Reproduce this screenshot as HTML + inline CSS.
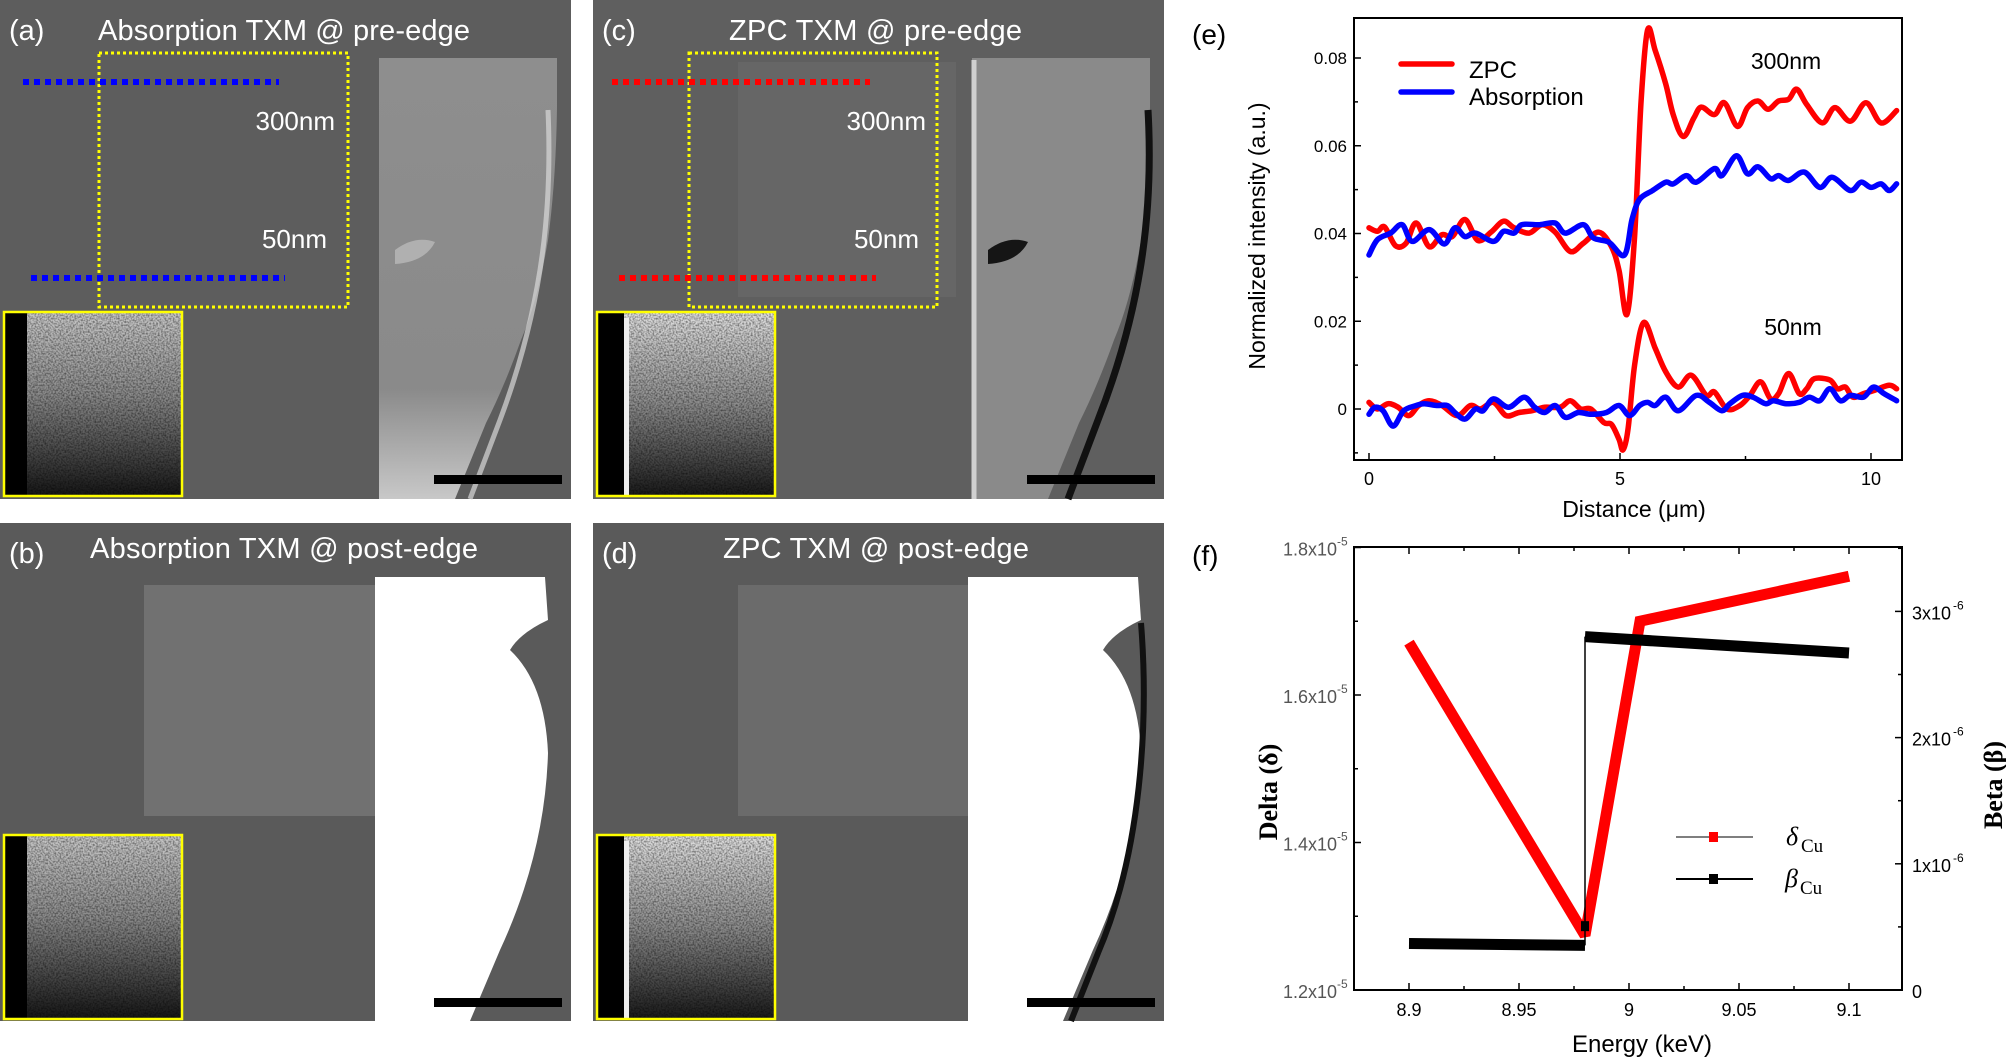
<!DOCTYPE html>
<html><head><meta charset="utf-8"><style>
html,body{margin:0;padding:0;background:#fff;}
svg{display:block;font-family:"Liberation Sans",Arial,sans-serif;}
</style></head><body>
<svg id="root" width="2006" height="1057" viewBox="0 0 2006 1057" xmlns="http://www.w3.org/2000/svg">
<defs>
  <linearGradient id="insetA" x1="0" y1="0" x2="0" y2="1"><stop offset="0" stop-color="#c8c8c8"/><stop offset="0.45" stop-color="#8a8a8a"/><stop offset="1" stop-color="#151515"/></linearGradient>
  <linearGradient id="insetC" x1="0" y1="0" x2="0" y2="1"><stop offset="0" stop-color="#e0e0e0"/><stop offset="0.5" stop-color="#8c8c8c"/><stop offset="1" stop-color="#181818"/></linearGradient>
  <linearGradient id="specA" x1="0" y1="0" x2="0" y2="1"><stop offset="0" stop-color="#8e8e8e"/><stop offset="0.75" stop-color="#8a8a8a"/><stop offset="1" stop-color="#c8c8c8"/></linearGradient>
  <filter id="noise" x="0" y="0" width="1" height="1"><feTurbulence type="fractalNoise" baseFrequency="0.6" numOctaves="1" seed="3"/><feColorMatrix type="matrix" values="0 0 0 0 0  0 0 0 0 0  0 0 0 0 0  0 0 0 1.1 -0.4"/><feComposite in2="SourceGraphic" operator="in"/></filter>
</defs>

<!-- Panel a -->
<g>
  <rect x="0" y="0" width="571" height="499" fill="#5d5d5d"/>
  <path d="M379,58 L557,58 L557,107 Q556,180 548,240 Q538,300 521,340 Q505,385 486,423 L455,499 L379,499 Z" fill="url(#specA)"/>
  <path d="M548,110 C552,200 545,300 500,420 L470,499" stroke="#d8d8d8" stroke-width="5" fill="none" opacity="0.7"/>
  <path d="M395,250 q20,-15 40,-8 q-10,20 -40,22 z" fill="#b0b0b0"/>
  <rect x="99" y="53" width="249" height="254" fill="none" stroke="#ffff00" stroke-width="3" stroke-dasharray="3,3"/>
  <line x1="23" y1="82" x2="279" y2="82" stroke="#0000ff" stroke-width="6" stroke-dasharray="6,5"/>
  <line x1="31" y1="278" x2="285" y2="278" stroke="#0000ff" stroke-width="6" stroke-dasharray="6,5"/>
  <text x="9" y="40" font-size="29" fill="#fff">(a)</text>
  <text x="98" y="40" font-size="29" fill="#fff" textLength="372">Absorption TXM @ pre-edge</text>
  <text x="335" y="130" font-size="26" fill="#fff" text-anchor="end">300nm</text>
  <text x="327" y="248" font-size="26" fill="#fff" text-anchor="end">50nm</text>
  <g><rect x="4" y="312" width="178" height="184" fill="url(#insetA)"/><rect x="4" y="312" width="178" height="184" fill="#000" filter="url(#noise)"/><rect x="4" y="312" width="23" height="184" fill="#000"/><rect x="4" y="312" width="178" height="184" fill="none" stroke="#ffff00" stroke-width="2.5"/></g>
  <rect x="434" y="475" width="128" height="9" fill="#000"/>
</g>

<!-- Panel c -->
<g transform="translate(593,0)">
  <rect x="0" y="0" width="571" height="499" fill="#5f5f5f"/>
  <rect x="145" y="62" width="218" height="235" fill="#666"/>
  <path d="M379,58 L557,58 L557,107 Q556,180 548,240 Q538,300 521,340 Q505,385 486,423 L455,499 L379,499 Z" fill="#8a8a8a"/>
  <path d="M555,110 C560,200 552,300 505,420 L475,499" stroke="#111" stroke-width="7" fill="none"/>
  <path d="M381,60 L381,499" stroke="#d0d0d0" stroke-width="5"/>
  <path d="M395,250 q20,-15 40,-8 q-10,20 -40,22 z" fill="#151515"/>
  <rect x="96" y="53" width="248" height="254" fill="none" stroke="#ffff00" stroke-width="3" stroke-dasharray="3,3"/>
  <line x1="19" y1="82" x2="277" y2="82" stroke="#ff0000" stroke-width="6" stroke-dasharray="6,5"/>
  <line x1="26" y1="278" x2="283" y2="278" stroke="#ff0000" stroke-width="6" stroke-dasharray="6,5"/>
  <text x="9" y="40" font-size="29" fill="#fff">(c)</text>
  <text x="136" y="40" font-size="29" fill="#fff" textLength="293">ZPC TXM @ pre-edge</text>
  <text x="333" y="130" font-size="26" fill="#fff" text-anchor="end">300nm</text>
  <text x="326" y="248" font-size="26" fill="#fff" text-anchor="end">50nm</text>
  <g><rect x="4" y="312" width="178" height="184" fill="url(#insetC)"/><rect x="4" y="312" width="178" height="184" fill="#000" filter="url(#noise)"/><rect x="4" y="312" width="27" height="184" fill="#000"/><rect x="31" y="318" width="5" height="178" fill="#eee"/><rect x="4" y="312" width="178" height="184" fill="none" stroke="#ffff00" stroke-width="2.5"/></g>
  <rect x="434" y="475" width="128" height="9" fill="#000"/>
</g>

<!-- Panel b -->
<g transform="translate(0,523)">
  <rect x="0" y="0" width="571" height="498" fill="#5a5a5a"/>
  <rect x="144" y="62" width="235" height="231" fill="#717171"/>
  <path d="M375,54 L545,54 L548,97 Q520,110 510,127 Q545,160 548,230 Q545,330 500,427 L470,498 L375,498 Z" fill="#fff"/>
  <text x="9" y="40" font-size="29" fill="#fff">(b)</text>
  <text x="90" y="35" font-size="29" fill="#fff" textLength="388">Absorption TXM @ post-edge</text>
  <g><rect x="4" y="312" width="178" height="184" fill="url(#insetA)"/><rect x="4" y="312" width="178" height="184" fill="#000" filter="url(#noise)"/><rect x="4" y="312" width="23" height="184" fill="#000"/><rect x="4" y="312" width="178" height="184" fill="none" stroke="#ffff00" stroke-width="2.5"/></g>
  <rect x="434" y="475" width="128" height="9" fill="#000"/>
</g>

<!-- Panel d -->
<g transform="translate(593,523)">
  <rect x="0" y="0" width="571" height="498" fill="#5a5a5a"/>
  <rect x="145" y="62" width="234" height="231" fill="#6b6b6b"/>
  <path d="M375,54 L545,54 L548,97 Q520,110 510,127 Q545,160 548,230 Q545,330 500,427 L470,498 L375,498 Z" fill="#fff"/>
  <path d="M548,100 C556,200 548,330 505,430 L478,498" stroke="#111" stroke-width="6" fill="none"/>
  <text x="9" y="40" font-size="29" fill="#fff">(d)</text>
  <text x="130" y="35" font-size="29" fill="#fff" textLength="306">ZPC TXM @ post-edge</text>
  <g><rect x="4" y="312" width="178" height="184" fill="url(#insetC)"/><rect x="4" y="312" width="178" height="184" fill="#000" filter="url(#noise)"/><rect x="4" y="312" width="27" height="184" fill="#000"/><rect x="31" y="318" width="5" height="178" fill="#eee"/><rect x="4" y="312" width="178" height="184" fill="none" stroke="#ffff00" stroke-width="2.5"/></g>
  <rect x="434" y="475" width="128" height="9" fill="#000"/>
</g>

<text x="1192" y="44" font-size="28" fill="#000">(e)</text>
<text x="1192" y="565" font-size="28" fill="#000">(f)</text>

<g id="chartE"></g>
<g id="chartF"></g>
</svg>
<script>
// ---- Chart (e) data ----
const zpc300X = [0,0.17,0.31,0.53,0.74,0.94,1.2,1.45,1.66,1.91,2.17,2.43,2.68,2.89,3.19,3.45,3.71,4.01,4.27,4.58,4.83,4.98,5.14,5.29,5.42,5.55,5.7,5.91,6.06,6.26,6.47,6.62,6.88,7.08,7.34,7.54,7.75,7.95,8.16,8.36,8.52,8.72,9.03,9.28,9.59,9.9,10.2,10.51];
const zpc300Y = [0.0413,0.0405,0.0415,0.0372,0.0378,0.0424,0.037,0.0397,0.0393,0.0432,0.0384,0.0403,0.0428,0.0413,0.0401,0.042,0.0403,0.0359,0.0378,0.0403,0.037,0.0316,0.0216,0.0393,0.0702,0.0864,0.0818,0.0741,0.0671,0.0621,0.0663,0.0688,0.0671,0.0698,0.0644,0.0687,0.0702,0.0683,0.0702,0.0706,0.0729,0.0694,0.0652,0.0687,0.0656,0.0698,0.0652,0.068];
const abs300X = [0,0.17,0.43,0.66,0.86,1.2,1.5,1.71,1.91,2.12,2.48,2.68,2.89,3.04,3.4,3.71,3.91,4.27,4.47,4.78,5.09,5.24,5.39,5.65,5.91,6.06,6.32,6.52,6.88,7.03,7.32,7.54,7.75,8.0,8.16,8.36,8.67,8.98,9.23,9.59,9.8,10.0,10.2,10.36,10.51];
const abs300Y = [0.0351,0.0386,0.0401,0.042,0.0382,0.0409,0.0376,0.0413,0.0393,0.0401,0.0382,0.0405,0.0401,0.042,0.042,0.0424,0.0401,0.042,0.039,0.038,0.0351,0.0432,0.0478,0.0498,0.0517,0.0513,0.0532,0.0517,0.0548,0.0532,0.0577,0.0536,0.0552,0.0525,0.0532,0.0521,0.054,0.0505,0.0528,0.0498,0.0517,0.0505,0.0513,0.0498,0.0513];
const zpc50X = [0,0.17,0.38,0.58,0.79,0.99,1.2,1.45,1.76,2.02,2.22,2.48,2.73,2.99,3.24,3.5,3.81,4.01,4.22,4.42,4.68,4.83,4.98,5.06,5.16,5.29,5.47,5.7,5.91,6.16,6.42,6.72,6.88,7.13,7.39,7.59,7.8,8.0,8.16,8.36,8.57,8.72,8.87,9.18,9.33,9.49,9.64,9.85,10.05,10.36,10.51];
const zpc50Y = [0.0015,0,0.0012,0.0004,-0.0015,0.0008,0.0019,0.0008,-0.0015,0.0008,0,0.0015,-0.0015,-0.0008,-0.0004,0.0004,0.0004,0.0019,0,0,-0.0031,-0.0035,-0.0069,-0.0093,-0.0046,0.01,0.0197,0.0139,0.0085,0.005,0.0077,0.0031,0.0039,0,0.0008,0.0031,0.0062,0.0023,0.0035,0.0081,0.0035,0.0046,0.0069,0.0066,0.0046,0.005,0.0027,0.0035,0.0042,0.0054,0.0046];
const abs50X = [0,0.12,0.28,0.48,0.69,0.94,1.1,1.35,1.56,1.71,1.91,2.12,2.27,2.48,2.78,3.09,3.3,3.5,3.71,3.91,4.17,4.42,4.73,4.98,5.19,5.39,5.55,5.7,5.91,6.16,6.52,6.78,7.03,7.19,7.44,7.65,7.9,8.06,8.31,8.57,8.77,8.98,9.18,9.39,9.59,9.85,10.05,10.26,10.51];
const abs50Y = [-0.0012,0.0004,-0.0004,-0.0039,-0.0004,0.0008,0.0012,0.0008,0.0008,-0.0008,-0.0023,0,-0.0004,0.0023,0.0004,0.0027,0.0004,-0.0008,0.0008,-0.0019,-0.0008,-0.0012,-0.0008,0.0008,-0.0015,0.0008,0.0015,0.0008,0.0027,-0.0004,0.0031,0.0015,-0.0004,0.0012,0.0031,0.0027,0.0012,0.0019,0.0012,0.0015,0.0027,0.0019,0.0046,0.0019,0.0031,0.0027,0.005,0.0035,0.0019];
const eXTicks = [0,5,10];
const eXTickLabels = ["0","5","10"];
const eYTicks = [0,0.02,0.04,0.06,0.08];
const eYTickLabels = ["0","0.02","0.04","0.06","0.08"];

// ---- Chart (f) data ----
const deltaE = [8.9,8.98,9.005,9.1];
const deltaV = [1.671,1.274,1.700,1.761]; // x1e-5
const betaE = [8.9,8.98,8.98,9.1];
const betaV = [0.368,0.354,2.80,2.67]; // x1e-6
const fXTicks = [8.9,8.95,9.0,9.05,9.1];
const fXTickLabels = ["8.9","8.95","9","9.05","9.1"];
const fLTicks = [1.2,1.4,1.6,1.8];
const fLTickLabels = ["1.2x10","1.4x10","1.6x10","1.8x10"];
const fRTicks = [0,1,2,3];
const fRTickLabels = ["0","1x10","2x10","3x10"];

const NS = "http://www.w3.org/2000/svg";
function mk(parent, tag, attrs, text){
  const el = document.createElementNS(NS, tag);
  for (const k in attrs) el.setAttribute(k, attrs[k]);
  if (text !== undefined) el.textContent = text;
  parent.appendChild(el);
  return el;
}
function smoothPath(pts){
  let d = "M" + pts[0][0].toFixed(1) + "," + pts[0][1].toFixed(1);
  for (let i=0;i<pts.length-1;i++){
    const p0=pts[Math.max(0,i-1)], p1=pts[i], p2=pts[i+1], p3=pts[Math.min(pts.length-1,i+2)];
    const c1=[p1[0]+(p2[0]-p0[0])/6, p1[1]+(p2[1]-p0[1])/6];
    const c2=[p2[0]-(p3[0]-p1[0])/6, p2[1]-(p3[1]-p1[1])/6];
    d += " C"+c1[0].toFixed(1)+","+c1[1].toFixed(1)+" "+c2[0].toFixed(1)+","+c2[1].toFixed(1)+" "+p2[0].toFixed(1)+","+p2[1].toFixed(1);
  }
  return d;
}

// ===== Chart E =====
(function(){
  const g = document.getElementById("chartE");
  const L=1354, R=1902, T=18, B=460;
  const xs = v => 1369 + v*50.2;
  const ys = v => 409 - v*4387.5;
  const clip = mk(g,"clipPath",{id:"clipE"});
  mk(clip,"rect",{x:L,y:T,width:R-L,height:B-T});
  const series = [
    [zpc300X,zpc300Y,"#ff0000","zpc-300nm-line"],
    [zpc50X,zpc50Y,"#ff0000","zpc-50nm-line"],
    [abs300X,abs300Y,"#0000ff","absorption-300nm-line"],
    [abs50X,abs50Y,"#0000ff","absorption-50nm-line"]
  ];
  series.forEach(s=>{
    const pts = s[0].map((x,i)=>[xs(x), ys(s[1][i])]);
    const p = mk(g,"path",{d:smoothPath(pts),fill:"none",stroke:s[2],"stroke-width":5.5,"stroke-linejoin":"round","stroke-linecap":"round","clip-path":"url(#clipE)"});
    
    
  });
  const frame = mk(g,"rect",{x:L,y:T,width:R-L,height:B-T,fill:"none",stroke:"#000","stroke-width":2});
  
  
  eYTicks.forEach((v,i)=>{
    mk(g,"line",{x1:L,x2:L+7,y1:ys(v),y2:ys(v),stroke:"#000","stroke-width":1.5});
    const t = mk(g,"text",{x:L-7,y:ys(v)+6,"font-size":17,"text-anchor":"end"},eYTickLabels[i]);
    
    
  });
  for (let v=-0.01; v<0.09; v+=0.02){ if (ys(v)>T && ys(v)<B) mk(g,"line",{x1:L,x2:L+4,y1:ys(v),y2:ys(v),stroke:"#000","stroke-width":1.5}); }
  eXTicks.forEach((v,i)=>{
    mk(g,"line",{x1:xs(v),x2:xs(v),y1:B,y2:B-7,stroke:"#000","stroke-width":1.5});
    const t = mk(g,"text",{x:xs(v),y:485,"font-size":18,"text-anchor":"middle"},eXTickLabels[i]);
    
    
  });
  [2.5,7.5].forEach(v=>mk(g,"line",{x1:xs(v),x2:xs(v),y1:B,y2:B-4,stroke:"#000","stroke-width":1.5}));
  const xt = mk(g,"text",{x:1634,y:517,"font-size":23,"text-anchor":"middle"},"Distance (μm)");
  
  
  const yt = mk(g,"text",{x:0,y:0,"font-size":23,"text-anchor":"middle",transform:"translate(1265,236) rotate(-90)"},"Normalized intensity (a.u.)");
  
  
  const l1 = mk(g,"line",{x1:1401,x2:1452,y1:64,y2:64,stroke:"#ff0000","stroke-width":5.5,"stroke-linecap":"round"});
  
  
  const t1 = mk(g,"text",{x:1469,y:78,"font-size":24},"ZPC");
  
  
  const l2 = mk(g,"line",{x1:1401,x2:1452,y1:92,y2:92,stroke:"#0000ff","stroke-width":5.5,"stroke-linecap":"round"});
  
  
  const t2 = mk(g,"text",{x:1469,y:105,"font-size":24},"Absorption");
  
  
  const a1 = mk(g,"text",{x:1786,y:69,"font-size":23,"text-anchor":"middle"},"300nm");
  
  
  const a2 = mk(g,"text",{x:1793,y:335,"font-size":23,"text-anchor":"middle"},"50nm");
  
  
})();

// ===== Chart F =====
(function(){
  const g = document.getElementById("chartF");
  const L=1354, R=1902, T=547, B=990;
  const xs = e => 1409 + (e-8.9)*2200;
  const yl = d => 990 - (d-1.2)*737.5;
  const yr = b => 990 - b*126.2;
  const dpts = deltaE.map((e,i)=>xs(e)+","+yl(deltaV[i])).join(" ");
  const dl = mk(g,"polyline",{points:dpts,fill:"none",stroke:"#ff0000","stroke-width":11,"stroke-linejoin":"miter","stroke-miterlimit":2});
  
  
  for (let i=0;i<betaE.length-1;i++){
    const same = betaE[i]===betaE[i+1];
    const seg = mk(g,"line",{x1:xs(betaE[i]),y1:yr(betaV[i]),x2:xs(betaE[i+1]),y2:yr(betaV[i+1]),stroke:"#000","stroke-width":same?1.5:11});
    
    
  }
  const mkr = mk(g,"rect",{x:xs(8.98)-4,y:yr(0.506)-5,width:8,height:10,fill:"#000"});
  
  
  const frame = mk(g,"rect",{x:L,y:T,width:R-L,height:B-T,fill:"none",stroke:"#000","stroke-width":2});
  
  
  fXTicks.forEach((v,i)=>{
    mk(g,"line",{x1:xs(v),x2:xs(v),y1:B,y2:B-7,stroke:"#000","stroke-width":1.5});
    mk(g,"line",{x1:xs(v),x2:xs(v),y1:T,y2:T+7,stroke:"#000","stroke-width":1.5});
    const t = mk(g,"text",{x:xs(v),y:1016,"font-size":18,"text-anchor":"middle"},fXTickLabels[i]);
    
    
  });
  [8.925,8.975,9.025,9.075].forEach(v=>{
    mk(g,"line",{x1:xs(v),x2:xs(v),y1:B,y2:B-4,stroke:"#000","stroke-width":1.5});
    mk(g,"line",{x1:xs(v),x2:xs(v),y1:T,y2:T+4,stroke:"#000","stroke-width":1.5});
  });
  fLTicks.forEach((v,i)=>{
    mk(g,"line",{x1:L,x2:L+7,y1:yl(v),y2:yl(v),stroke:"#000","stroke-width":1.5});
    const t = mk(g,"text",{x:L-17,y:yl(v)+8,"font-size":18,"text-anchor":"end",fill:"#555"},fLTickLabels[i]);
    
    
    mk(g,"text",{x:L-17,y:yl(v)-2,"font-size":12,fill:"#555"},"-5");
  });
  [1.3,1.5,1.7].forEach(v=>mk(g,"line",{x1:L,x2:L+4,y1:yl(v),y2:yl(v),stroke:"#000","stroke-width":1.5}));
  fRTicks.forEach((v,i)=>{
    mk(g,"line",{x1:R,x2:R-7,y1:yr(v),y2:yr(v),stroke:"#000","stroke-width":1.5});
    const t = mk(g,"text",{x:R+10,y:yr(v)+8,"font-size":18},fRTickLabels[i]);
    
    
    if (v!==0) mk(g,"text",{x:R+51,y:yr(v)-2,"font-size":12},"-6");
  });
  [0.5,1.5,2.5,3.5].forEach(v=>{ if (yr(v)>T) mk(g,"line",{x1:R,x2:R-4,y1:yr(v),y2:yr(v),stroke:"#000","stroke-width":1.5}); });
  const xt = mk(g,"text",{x:1642,y:1052,"font-size":24,"text-anchor":"middle"},"Energy (keV)");
  
  
  const yt = mk(g,"text",{x:0,y:0,"font-size":26,"font-weight":"bold","text-anchor":"middle","font-family":"'Liberation Serif','DejaVu Serif',serif",transform:"translate(1277,792) rotate(-90)"},"Delta (δ)");
  
  
  const yt2 = mk(g,"text",{x:0,y:0,"font-size":26,"font-weight":"bold","text-anchor":"middle","font-family":"'Liberation Serif','DejaVu Serif',serif",transform:"translate(2002,785) rotate(-90)"},"Beta (β)");
  
  
  const lg1 = mk(g,"line",{x1:1676,x2:1753,y1:837,y2:837,stroke:"#555","stroke-width":1.5});
  
  
  mk(g,"rect",{x:1709,y:832,width:9,height:10,fill:"#ff0000"});
  const lt1 = mk(g,"text",{x:1786,y:845,"font-size":26,"font-style":"italic","font-family":"'Liberation Serif',serif"},"δ");
  
  
  mk(g,"text",{x:1801,y:852,"font-size":19,"font-family":"'Liberation Serif',serif"},"Cu");
  const lg2 = mk(g,"line",{x1:1676,x2:1753,y1:879,y2:879,stroke:"#000","stroke-width":2});
  
  
  mk(g,"rect",{x:1709,y:874,width:9,height:10,fill:"#000"});
  const lt2 = mk(g,"text",{x:1785,y:887,"font-size":26,"font-style":"italic","font-family":"'Liberation Serif',serif"},"β");
  
  
  mk(g,"text",{x:1800,y:894,"font-size":19,"font-family":"'Liberation Serif',serif"},"Cu");
})();
</script>
</body></html>
